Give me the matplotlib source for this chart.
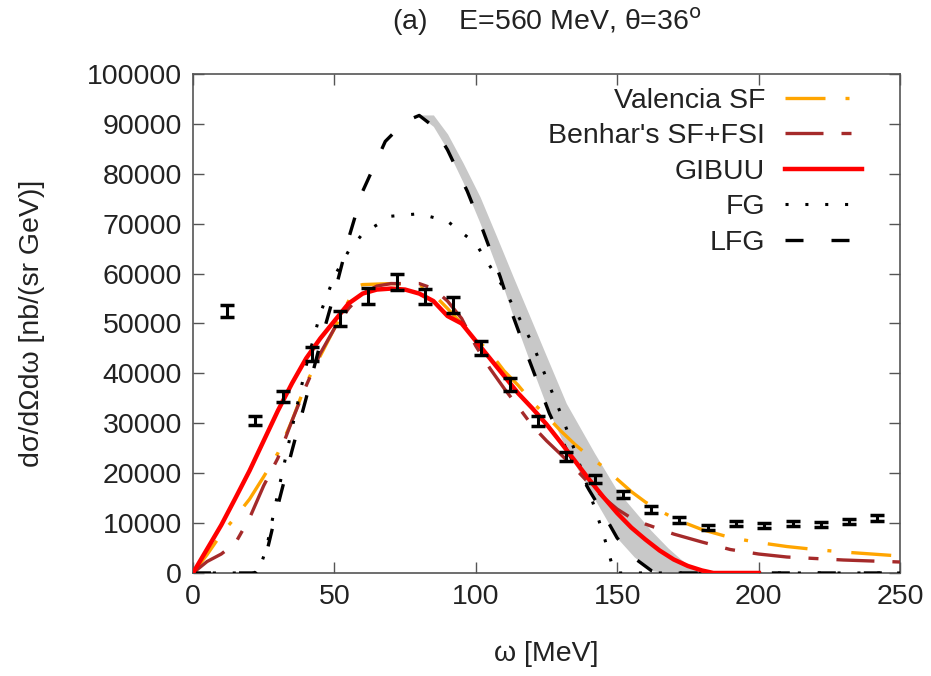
import matplotlib
matplotlib.use("Agg")
import matplotlib.pyplot as plt
import numpy as np

plt.rcParams["font.family"] = ["Liberation Sans", "DejaVu Sans"]

# experimental data
data_w = [12, 22, 32, 42, 52, 62, 72, 82, 92, 102, 112, 122, 132, 142,
          152, 162, 172, 182, 192, 202, 212, 222, 232, 242]
data_xs = [52500, 30500, 35300, 43800, 51000, 55600, 58300, 55500, 53800,
           45000, 37800, 30400, 23400, 18800, 15700, 12700, 10700, 9200,
           10000, 9500, 10000, 9700, 10400, 11000]
data_err = [1200, 900, 1100, 1400, 1500, 1600, 1600, 1500, 1600, 1400,
            1300, 1000, 900, 800, 700, 700, 600, 500, 500, 500, 500, 500,
            500, 600]

# Valencia SF
val_w = [0, 5, 10, 15, 20, 25, 30, 35, 40, 45, 50, 55, 58, 60, 70, 80, 85,
         90, 95, 100, 105, 110, 115, 120, 125, 130, 135, 140, 145, 150, 155,
         160, 165, 170, 175, 180, 190, 200, 210, 220, 230, 240, 250]
val_xs = [0, 3700, 7800, 11200, 14800, 19300, 24000, 30500, 38000, 43500,
          49000, 54500, 57500, 57800, 58000, 57800, 55900, 53000, 50000,
          47000, 44200, 40500, 37600, 34200, 31500, 28500, 25800, 23400,
          21300, 18800, 16300, 14200, 12500, 11000, 9800, 8700, 7100, 6100,
          5300, 4700, 4200, 3800, 3400]

# Benhar's SF+FSI
ben_w = [0, 5, 10, 15, 20, 25, 30, 35, 40, 45, 50, 55, 60, 65, 70, 80, 85,
         90, 95, 100, 105, 110, 115, 120, 125, 130, 135, 140, 145, 150, 155,
         160, 165, 170, 175, 180, 190, 200, 210, 220, 230, 240, 250]
ben_xs = [0, 2300, 3800, 6000, 11000, 17500, 23000, 30500, 37500, 44000,
          49000, 53000, 56000, 57500, 58000, 58000, 57000, 54500, 51000,
          45500, 41000, 37000, 33300, 29500, 26500, 23800, 21000, 18000,
          15200, 12800, 11000, 9800, 8800, 7800, 7000, 6200, 4700, 3800,
          3200, 2900, 2600, 2400, 2200]

# GIBUU
gib_w = [0, 5, 10, 15, 20, 25, 30, 35, 40, 45, 50, 55, 60, 65, 70, 75, 80,
         85, 90, 95, 100, 105, 110, 115, 120, 125, 130, 135, 140, 145, 150,
         155, 160, 165, 170, 175, 180, 184, 200]
gib_xs = [0, 4800, 9600, 15000, 20500, 26500, 32500, 38000, 43000, 47000,
          50500, 54000, 56000, 56800, 57000, 56800, 56000, 54500, 51500,
          50000, 46500, 43000, 39500, 36000, 33000, 29800, 26200, 22500,
          18800, 15300, 12000, 9100, 6700, 4500, 2700, 1400, 500, 0, 0]

# FG
fg_w = [0, 23, 26, 30, 35, 40, 45, 50, 55, 60, 70, 80, 90, 100, 110, 120,
        125, 130, 135, 140, 145, 149, 250]
fg_xs = [0, 0, 5000, 16000, 29000, 41500, 52000, 59500, 64500, 68000, 71500,
         72000, 70500, 66000, 57000, 46000, 39000, 32000, 24500, 16500, 8000,
         0, 0]

# LFG
lfg_w = [0, 22, 26, 30, 35, 40, 45, 50, 55, 60, 68, 75, 80, 85, 90, 97,
         102.5, 108.6, 113.3, 118, 126, 132, 140, 145, 150, 157, 162, 165,
         250]
lfg_xs = [0, 0, 4000, 13500, 24500, 35000, 46000, 56000, 67000, 76500, 86500,
          90500, 91700, 89500, 84800, 76500, 68700, 59400, 51300, 44000,
          32000, 24800, 16700, 12000, 7000, 2600, 500, 0, 0]

# grey band (upper edge, lower edge follows LFG)
band_w = [80, 85, 90, 95.5, 101.5, 107.4, 113.2, 119.2, 125.1, 132, 142,
          150, 156, 162, 168, 172, 176, 180]
band_hi = [91800, 91800, 88000, 82200, 75400, 67400, 59400, 51300, 43300,
           34000, 24000, 16500, 12500, 8500, 5000, 3000, 1200, 0]

fig = plt.figure(figsize=(9.31, 6.76), dpi=100)
ax = fig.add_axes([0.2073, 0.1524, 0.7594, 0.7381])

band_lo = np.interp(band_w, lfg_w, lfg_xs)
ax.fill_between(band_w, band_lo, band_hi, color="#c8c8c8", lw=0, zorder=1)

ax.plot(val_w, val_xs, color="#ffa500", lw=2.4, dashes=(12, 6, 1.2, 6),
        label="Valencia SF", zorder=3)
ax.plot(ben_w, ben_xs, color="#a52a2a", lw=2.4, dashes=(11.4, 5.4, 3, 5.4),
        label="Benhar's SF+FSI", zorder=3)
ax.plot(gib_w, gib_xs, color="#ff0000", lw=3.2, label="GIBUU", zorder=4)
ax.plot(fg_w, fg_xs, color="black", lw=2.2, dashes=(1, 5.5), label="FG",
        zorder=3)
ax.plot(lfg_w, lfg_xs, color="black", lw=2.4, dashes=(5.4, 8.4), label="LFG",
        zorder=3)

ax.errorbar(data_w, data_xs, yerr=data_err, fmt="none", ecolor="black",
            elinewidth=2.2, capsize=5, capthick=2.5, zorder=5)

ax.set_xlim(0, 250)
ax.set_ylim(0, 100000)
ax.set_xticks([0, 50, 100, 150, 200, 250])
ax.set_yticks(np.arange(0, 100001, 10000))
ax.tick_params(direction="in", length=8, width=1, labelsize=20.5,
               top=True, right=True, colors="#555555", labelcolor="#222222",
               pad=8)
for sp in ax.spines.values():
    sp.set_color("#555555")
    sp.set_linewidth(1.2)

ax.set_xlabel("ω [MeV]", fontsize=20.5, color="#222222", labelpad=22)
ax.set_ylabel("dσ/dΩdω [nb/(sr GeV)]", fontsize=20.5, color="#222222",
              labelpad=30)
ax.set_title("(a)    E=560 MeV, θ=36$^{\\rm o}$", fontsize=20.5,
             color="#222222", pad=32)

leg = ax.legend(loc="upper right", bbox_to_anchor=(0.946, 0.972),
                frameon=False, markerfirst=False, fontsize=20.5,
                handlelength=2.7, handletextpad=0.7, labelspacing=0.33,
                borderaxespad=0, borderpad=0)
for t in leg.get_texts():
    t.set_color("#222222")

fig.savefig("out.png", dpi=100)
